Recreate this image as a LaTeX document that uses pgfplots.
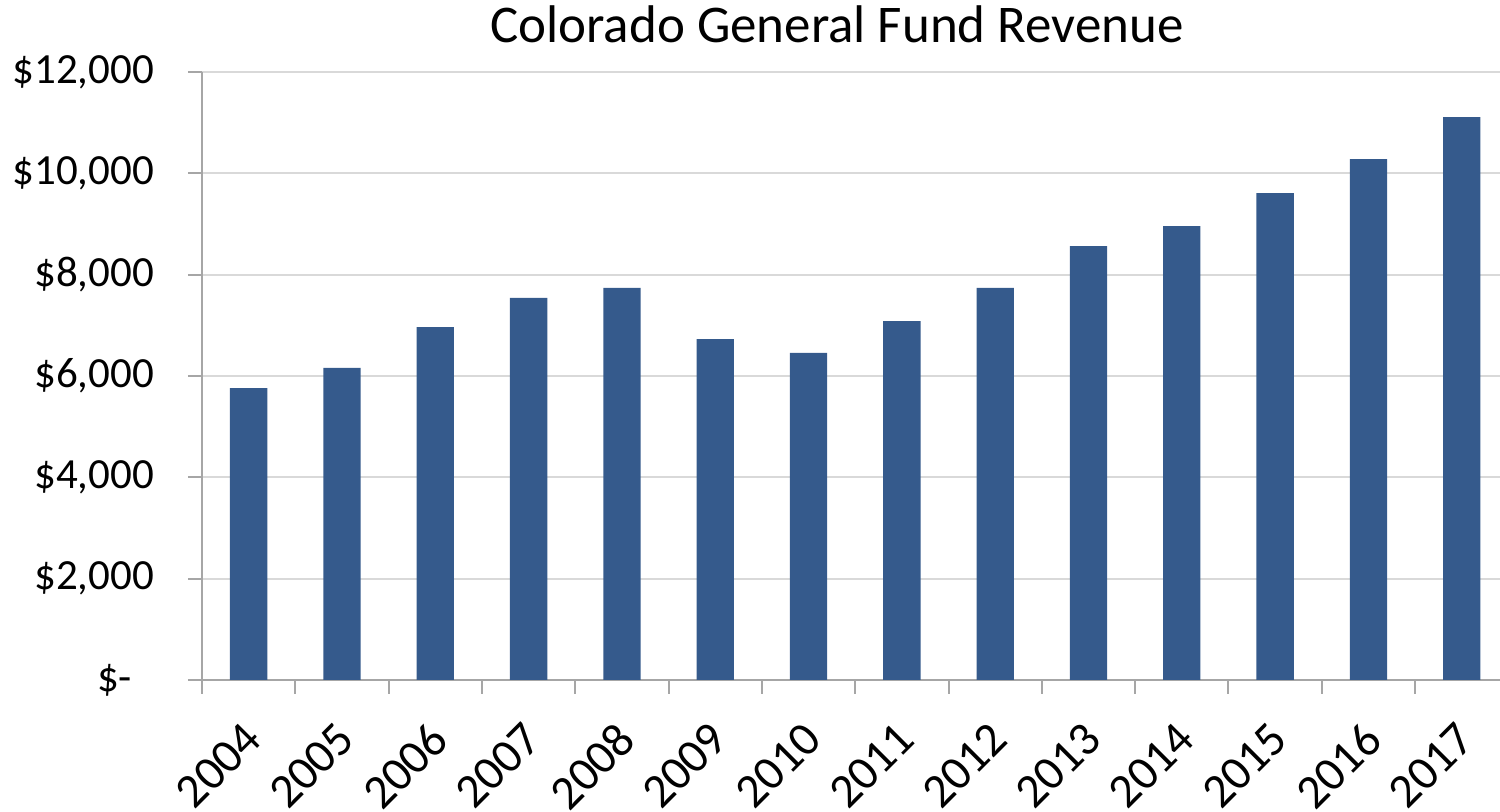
\documentclass[border=0pt]{standalone}
\usepackage{fontspec}
\setmainfont{Carlito}
\usepackage{pgfplots}
\pgfplotsset{compat=1.18}
\usetikzlibrary{calc}
\definecolor{barblue}{HTML}{355A8C}
\definecolor{gridgray}{HTML}{D9D9D9}
\definecolor{axisgray}{HTML}{A6A6A6}

\begin{document}
\begin{tikzpicture}
\begin{axis}[
    name=ax,
    scale only axis,
    width=649pt, height=304pt,
    xmin=-0.5, xmax=13.41,
    ymin=0, ymax=12000,
    axis x line*=bottom,
    axis y line*=left,
    axis line style={axisgray, line width=1pt},
    ybar, bar width=0.4,
    xtick={0,...,13},
    xticklabels={2004,2005,2006,2007,2008,2009,2010,2011,2012,2013,2014,2015,2016,2017},
    major x tick style={draw=none},
    minor xtick={-0.5,0.5,...,12.5},
    minor x tick style={axisgray, line width=1pt},
    minor tick length=7pt,
    xticklabel style={rotate=45, anchor=north east, font=\fontsize{24}{28}\selectfont, inner sep=1pt, xshift=-10.5pt, yshift=-5.5pt},
    ytick={0,2000,...,12000},
    scaled y ticks=false,
    yticklabels={{\$-\phantom{0}},{\$2,000},{\$4,000},{\$6,000},{\$8,000},{\$10,000},{\$12,000}},
    yticklabel style={font=\fontsize{21.5}{26}\selectfont, xshift=-13.5pt},
    y tick style={axisgray, line width=1pt},
    major tick length=7pt,
    tick align=outside,
    ymajorgrids,
    grid style={gridgray, line width=1pt},
    title={Colorado General Fund Revenue},
    title style={font=\fontsize{26.5}{32}\selectfont, xshift=-7pt, yshift=5pt},
]
\addplot[fill=barblue, draw=none] coordinates {
    (0,5760) (1,6160) (2,6965) (3,7540) (4,7740) (5,6730) (6,6455)
    (7,7085) (8,7740) (9,8565) (10,8960) (11,9610) (12,10280) (13,11110)
};
\end{axis}
\pgfresetboundingbox
\path ($(ax.south west)+(-101pt,-66pt)$) rectangle ($(ax.north east)+(0pt,36pt)$);
\end{tikzpicture}
\end{document}
